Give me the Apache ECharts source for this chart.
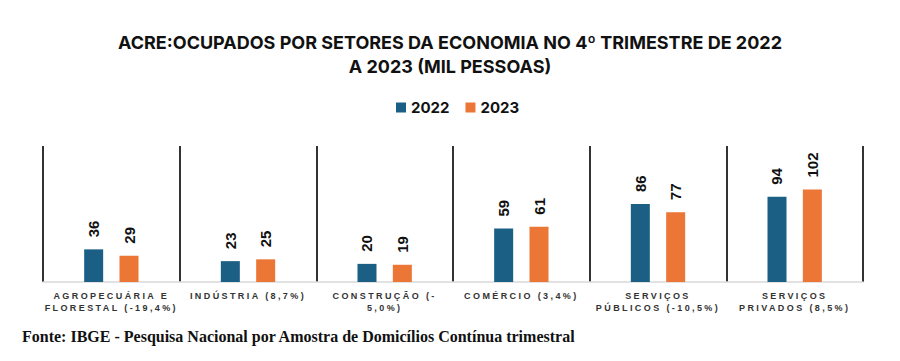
<!DOCTYPE html>
<html>
<head>
<meta charset="utf-8">
<script src="https://cdn.jsdelivr.net/npm/echarts@6/dist/echarts.min.js"></script>
<style>
  html, body { margin: 0; padding: 0; background: #fff; }
  #chart { width: 900px; height: 361px; }
  #chart svg text[style*=" 9px"] { letter-spacing: 2.4px; }
</style>
</head>
<body>
<div id="chart"></div>
<script>
const categories = [
  'AGROPECUÁRIA E\nFLORESTAL (-19,4%)',
  'INDÚSTRIA (8,7%)',
  'CONSTRUÇÃO (-\n5,0%)',
  'COMÉRCIO (3,4%)',
  'SERVIÇOS\nPÚBLICOS (-10,5%)',
  'SERVIÇOS\nPRIVADOS (8,5%)'
];
const values2022 = [36, 23, 20, 59, 86, 94];
const values2023 = [29, 25, 19, 61, 77, 102];
const seriesNames = ['2022', '2023'];
const titleText = 'ACRE:OCUPADOS POR SETORES DA ECONOMIA NO 4º TRIMESTRE DE 2022\nA 2023 (MIL PESSOAS)';
const sourceText = 'Fonte: IBGE - Pesquisa Nacional por Amostra de Domicílios Contínua trimestral';

const chart = echarts.init(document.getElementById('chart'), null, { renderer: 'svg' });
const labelOpt = {
  show: true,
  position: 'top',
  rotate: 90,
  align: 'left',
  verticalAlign: 'middle',
  distance: 12,
  color: '#111',
  fontFamily: 'Liberation Sans, Arial, sans-serif',
  fontWeight: 'bold',
  fontSize: 15
};
chart.setOption({
  animation: false,
  title: [{
    text: titleText,
    left: 'center',
    top: 25,
    textStyle: {
      fontFamily: 'Inter, sans-serif',
      fontWeight: 'bold',
      fontSize: 18,
      lineHeight: 24,
      color: '#111'
    }
  }, {
    text: sourceText,
    left: 17,
    top: 323,
    textStyle: {
      fontFamily: 'Liberation Serif, Times New Roman, serif',
      fontWeight: 'bold',
      fontSize: 16,
      color: '#111'
    }
  }],
  legend: {
    data: seriesNames,
    top: 95,
    left: 391,
    icon: 'rect',
    itemWidth: 10,
    itemHeight: 10,
    itemGap: 16,
    textStyle: {
      fontFamily: 'Inter, sans-serif',
      fontWeight: 'bold',
      fontSize: 15,
      color: '#111'
    }
  },
  grid: { left: 43, right: 37, top: 146, bottom: 79, containLabel: false },
  xAxis: {
    type: 'category',
    data: categories,
    axisLine: { show: true, lineStyle: { color: '#d9d9d9', width: 1.5 } },
    axisTick: { show: false },
    splitLine: { show: true, lineStyle: { color: '#333', width: 2 } },
    axisLabel: {
      interval: 0,
      margin: 8,
      fontFamily: 'Liberation Sans, Arial, sans-serif',
      fontWeight: 'bold',
      fontSize: 9,
      lineHeight: 12,
      color: '#333'
    }
  },
  yAxis: {
    type: 'value',
    min: 0,
    max: 150,
    show: false,
    splitLine: { show: false }
  },
  series: [{
    name: seriesNames[0],
    type: 'bar',
    data: values2022,
    barWidth: 19,
    barGap: '86%',
    itemStyle: { color: '#1b5f85' },
    label: labelOpt
  }, {
    name: seriesNames[1],
    type: 'bar',
    data: values2023,
    barWidth: 19,
    barGap: '86%',
    itemStyle: { color: '#ec7635' },
    label: labelOpt
  }]
});
</script>
</body>
</html>
